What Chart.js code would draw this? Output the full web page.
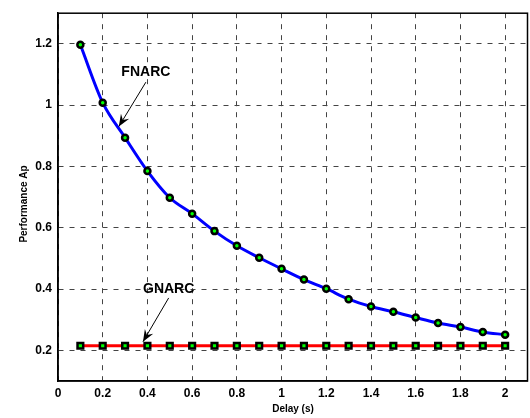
<!DOCTYPE html>
<html>
<head>
<meta charset="utf-8">
<script src="https://cdn.jsdelivr.net/npm/chart.js@4.4.1/dist/chart.umd.min.js"></script>
<style>
    html, body { margin: 0; padding: 0; background: #fff; overflow: hidden; }
    #wrap { position: relative; width: 534px; height: 418px; }
</style>
</head>
<body>
<div id="wrap"><canvas id="chart"></canvas></div>
<script>
const delays = [0.1, 0.2, 0.3, 0.4, 0.5, 0.6, 0.7, 0.8, 0.9, 1.0, 1.1, 1.2, 1.3, 1.4, 1.5, 1.6, 1.7, 1.8, 1.9, 2.0];
const fnarc = [1.197, 1.008, 0.894, 0.785, 0.698, 0.646, 0.589, 0.541, 0.502, 0.466, 0.431, 0.401, 0.367, 0.343, 0.326, 0.307, 0.289, 0.276, 0.260, 0.251];
const gnarc = [0.215, 0.215, 0.215, 0.215, 0.215, 0.215, 0.215, 0.215, 0.215, 0.215, 0.215, 0.215, 0.215, 0.215, 0.215, 0.215, 0.215, 0.215, 0.215, 0.215];

const xTicks = [0, 0.2, 0.4, 0.6, 0.8, 1, 1.2, 1.4, 1.6, 1.8, 2];
const yTicks = [0.2, 0.4, 0.6, 0.8, 1, 1.2];

// label text, label position, arrow tail, arrow head (data units)
const notes = [
    { text: 'FNARC', at: [0.393, 1.107], from: [0.393, 1.075], to: [0.272, 0.93] },
    { text: 'GNARC', at: [0.495, 0.40], from: [0.495, 0.371], to: [0.38, 0.228] }
];

const FONT = '"Liberation Sans", Arial, sans-serif';

function points(ys) {
    return delays.map((d, i) => ({ x: d, y: ys[i] }));
}

const framePlugin = {
    id: 'frame',
    afterDraw(chart) {
        const ctx = chart.ctx;
        const a = chart.chartArea;
        const xs = chart.scales.x;
        const ys = chart.scales.y;
        ctx.save();

        // axes box
        ctx.strokeStyle = '#000';
        ctx.lineWidth = 1.5;
        ctx.strokeRect(a.left, a.top, a.right - a.left, a.bottom - a.top);

        // annotations
        ctx.fillStyle = '#000';
        ctx.strokeStyle = '#000';
        ctx.font = 'bold 14px ' + FONT;
        ctx.textAlign = 'center';
        ctx.textBaseline = 'middle';
        notes.forEach(n => {
            ctx.fillText(n.text, xs.getPixelForValue(n.at[0]), ys.getPixelForValue(n.at[1]));
            const x1 = xs.getPixelForValue(n.from[0]), y1 = ys.getPixelForValue(n.from[1]);
            const x2 = xs.getPixelForValue(n.to[0]), y2 = ys.getPixelForValue(n.to[1]);
            ctx.lineWidth = 1;
            ctx.beginPath();
            ctx.moveTo(x1, y1);
            ctx.lineTo(x2, y2);
            ctx.stroke();
            const ang = Math.atan2(y2 - y1, x2 - x1);
            const len = 13, wid = 0.38;
            ctx.beginPath();
            ctx.moveTo(x2, y2);
            ctx.lineTo(x2 - len * Math.cos(ang - wid), y2 - len * Math.sin(ang - wid));
            ctx.lineTo(x2 - len * 0.6 * Math.cos(ang), y2 - len * 0.6 * Math.sin(ang));
            ctx.lineTo(x2 - len * Math.cos(ang + wid), y2 - len * Math.sin(ang + wid));
            ctx.closePath();
            ctx.fill();
        });

        // axis titles
        ctx.font = 'bold 10px ' + FONT;
        ctx.fillText('Delay (s)', 293, 409);
        ctx.translate(24, 204);
        ctx.rotate(-Math.PI / 2);
        ctx.fillText('Performance Ap', 0, 0);
        ctx.restore();
    }
};

const gridStyle = {
    color: '#444',
    lineWidth: 1,
    drawTicks: false
};

new Chart(document.getElementById('chart'), {
    type: 'line',
    data: {
        datasets: [
            {
                label: 'FNARC',
                data: points(fnarc),
                borderColor: '#0000ff',
                borderWidth: 3,
                cubicInterpolationMode: 'monotone',
                pointStyle: 'circle',
                pointRadius: 3,
                pointBorderWidth: 2.5,
                pointBorderColor: '#000',
                pointBackgroundColor: '#00ff00',
                order: 1
            },
            {
                label: 'GNARC',
                data: points(gnarc),
                borderColor: '#ff0000',
                borderWidth: 3,
                pointStyle: 'rect',
                pointRadius: 4,
                pointBorderWidth: 2.5,
                pointBorderColor: '#000',
                pointBackgroundColor: '#00ff00',
                order: 2
            }
        ]
    },
    options: {
        responsive: true,
        maintainAspectRatio: false,
        animation: false,
        events: [],
        layout: { padding: { left: 0, top: 6, right: 1, bottom: 0 } },
        plugins: { legend: { display: false }, tooltip: { enabled: false } },
        scales: {
            x: {
                type: 'linear',
                min: 0,
                max: 2.1,
                afterBuildTicks: s => { s.ticks = xTicks.map(v => ({ value: v })); },
                afterFit: s => { s.height = 37; },
                grid: Object.assign({}, gridStyle),
                border: { display: true, color: '#000', width: 1.5, dash: [5, 6] },
                ticks: {
                    padding: 5,
                    color: '#000',
                    maxRotation: 0,
                    autoSkip: false,
                    font: { family: FONT, size: 12, weight: 'bold' },
                    callback: v => String(Math.round(v * 10) / 10)
                }
            },
            y: {
                min: 0.1,
                max: 1.3,
                afterBuildTicks: s => { s.ticks = yTicks.map(v => ({ value: v })); },
                afterFit: s => { s.width = 58; },
                grid: Object.assign({}, gridStyle),
                border: { display: true, color: '#000', width: 1.5, dash: [5, 6] },
                ticks: {
                    padding: 6,
                    color: '#000',
                    autoSkip: false,
                    font: { family: FONT, size: 12, weight: 'bold' },
                    callback: v => String(Math.round(v * 10) / 10)
                }
            }
        }
    },
    plugins: [framePlugin]
});
</script>
</body>
</html>
